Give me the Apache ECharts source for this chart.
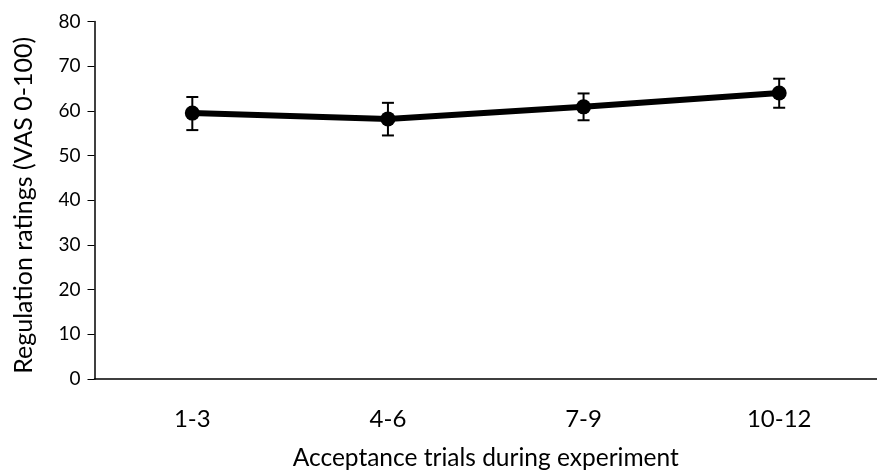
<!DOCTYPE html>
<html><head><meta charset="utf-8">
<script src="https://cdn.jsdelivr.net/npm/echarts@6/dist/echarts.min.js"></script>
<style>html,body{margin:0;padding:0;background:#fff;overflow:hidden}#c{width:877px;height:476px}</style>
</head><body><div id="c"></div>
<script>
const categories = ['1-3', '4-6', '7-9', '10-12'];
const means = [59.5, 58.2, 60.9, 64.0];
const errLow = [55.7, 54.5, 57.9, 60.7];
const errHigh = [63.1, 61.8, 63.9, 67.2];
const yTicks = [0, 80, 10];

const chart = echarts.init(document.getElementById('c'));
const FONT = 'Lato';
chart.setOption({
  animation: false,
  grid: { left: 94.5, top: 21.5, width: 792, height: 358.5 },
  xAxis: [{
    type: 'category', data: categories, boundaryGap: true, position: 'bottom',
    name: 'Acceptance trials during experiment', nameLocation: 'middle', nameGap: 67,
    nameTextStyle: { fontFamily: FONT, fontSize: 24.5, color: '#000' },
    axisLine: { lineStyle: { color: '#000', width: 1.5 } },
    axisTick: { alignWithLabel: true, length: 6, lineStyle: { color: '#000', width: 1 } },
    axisLabel: { fontFamily: FONT, fontSize: 24, color: '#000', margin: 28 }
  }, {
    type: 'category', data: categories, boundaryGap: true, position: 'bottom', offset: 0,
    axisLine: { show: false },
    axisTick: { alignWithLabel: true, inside: true, length: 6, lineStyle: { color: '#000', width: 1 } },
    axisLabel: { show: false }
  }],
  yAxis: {
    type: 'value', min: yTicks[0], max: yTicks[1], interval: yTicks[2],
    name: 'Regulation ratings (VAS 0-100)', nameLocation: 'middle', nameGap: 58, nameRotate: 90,
    nameTextStyle: { fontFamily: FONT, fontSize: 25, color: '#000', padding: [0, 10, 0, 0] },
    axisLine: { show: true, lineStyle: { color: '#000', width: 1.5 } },
    axisTick: { show: true, length: 7, lineStyle: { color: '#000', width: 1 } },
    axisLabel: { fontFamily: FONT, fontSize: 19, color: '#000', margin: 14 },
    splitLine: { show: false }
  },
  series: [
    {
      type: 'line', data: means, symbol: 'circle', symbolSize: 15,
      lineStyle: { color: '#000', width: 6 }, itemStyle: { color: '#000' }, z: 2
    },
    {
      type: 'custom', z: 3,
      data: categories.map((c, i) => [i, errLow[i], errHigh[i]]),
      renderItem: function (params, api) {
        const lo = api.coord([api.value(0), api.value(1)]);
        const hi = api.coord([api.value(0), api.value(2)]);
        const hw = 6;
        const st = { stroke: '#000', lineWidth: 2 };
        return { type: 'group', children: [
          { type: 'line', shape: { x1: lo[0], y1: lo[1], x2: hi[0], y2: hi[1] }, style: st },
          { type: 'line', shape: { x1: lo[0]-hw, y1: lo[1], x2: lo[0]+hw, y2: lo[1] }, style: st },
          { type: 'line', shape: { x1: hi[0]-hw, y1: hi[1], x2: hi[0]+hw, y2: hi[1] }, style: st }
        ]};
      }
    }
  ]
});
</script></body></html>
